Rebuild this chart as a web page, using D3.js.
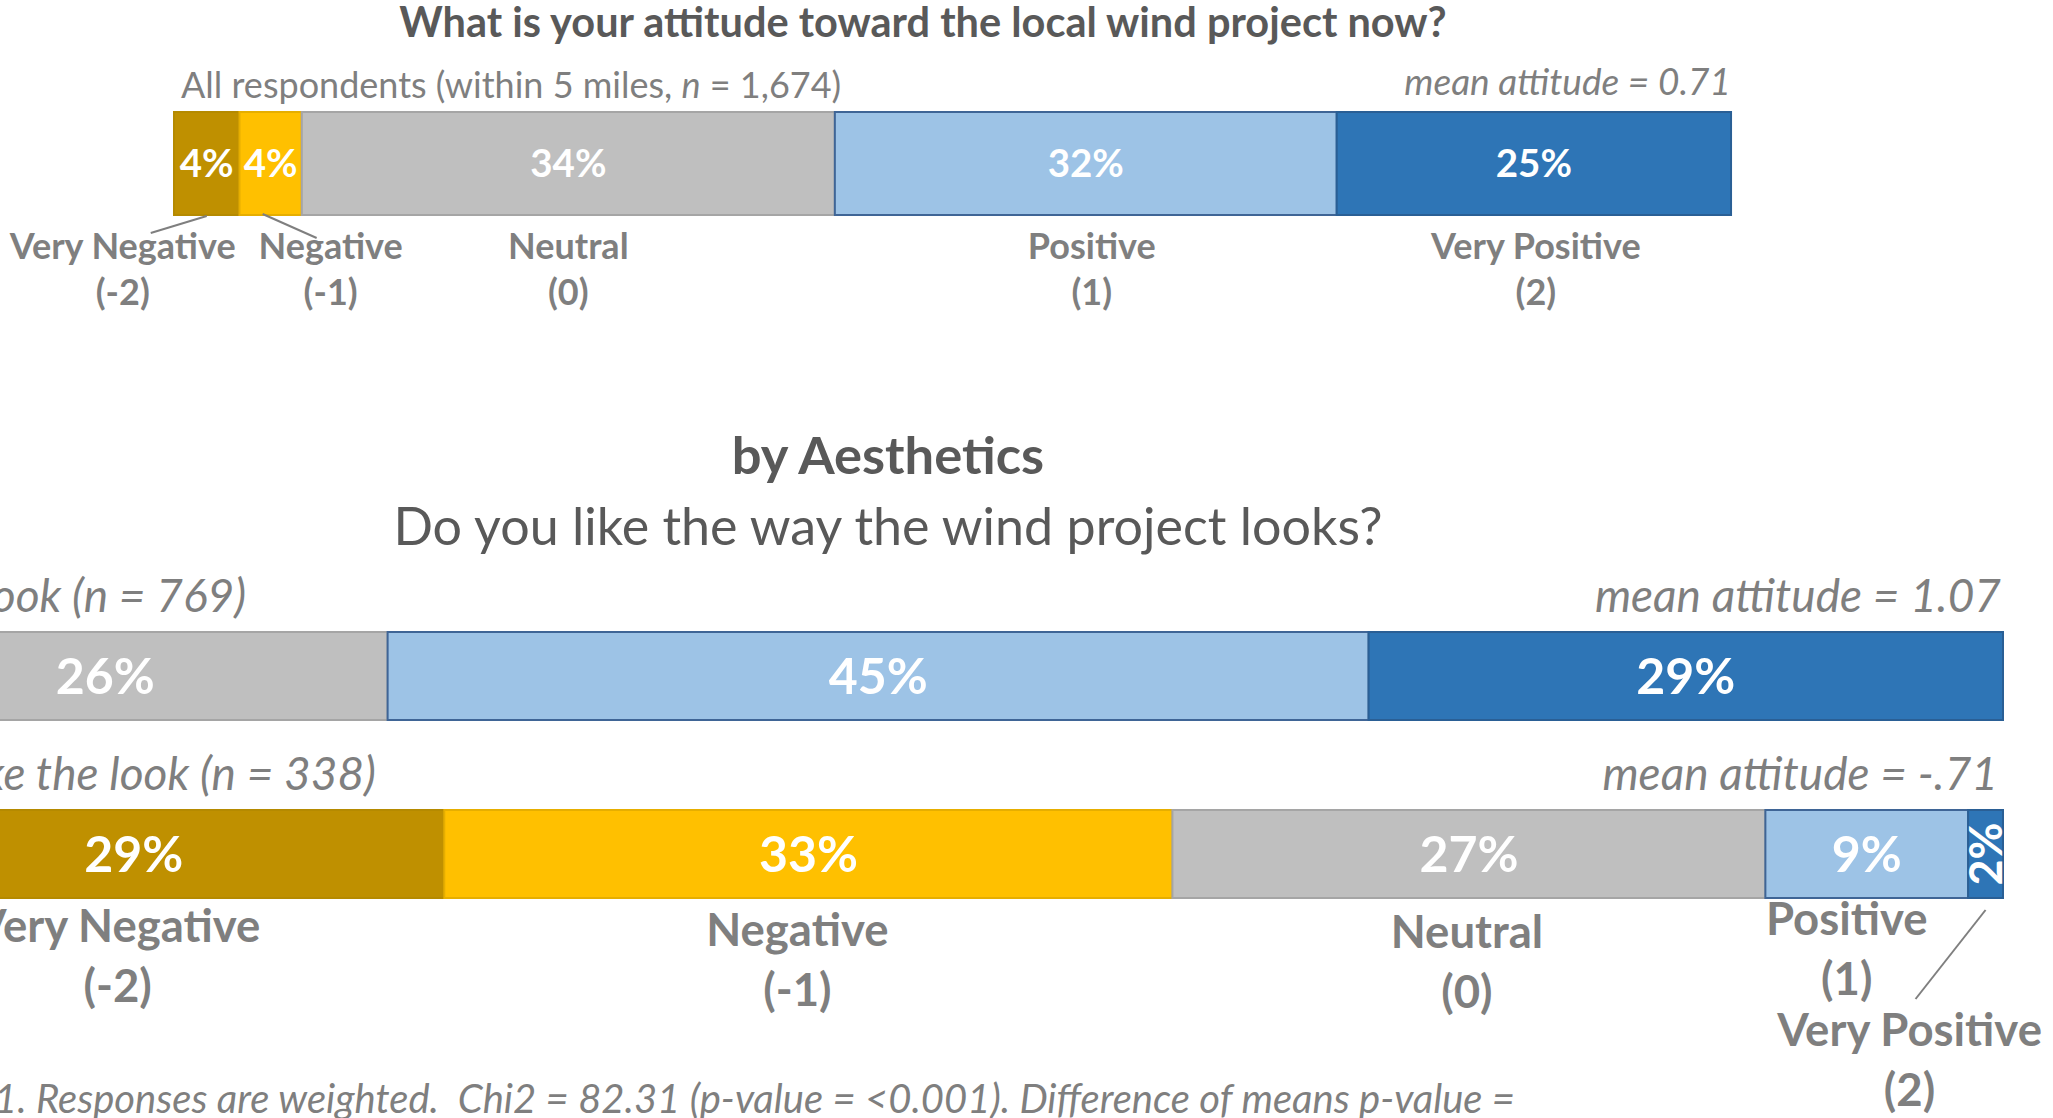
<!DOCTYPE html>
<html>
<head>
<meta charset="utf-8">
<script src="https://cdn.jsdelivr.net/npm/d3@7"></script>
<style>
  body { margin: 0; background: #fff; overflow: hidden; }
  svg { display: block; font-family: Lato, "Open Sans", sans-serif; }
</style>
</head>
<body>
<svg id="chart" width="2053" height="1118"></svg>
<script>
// Response categories
const categories = ['Very Negative', 'Negative', 'Neutral', 'Positive', 'Very Positive'];
const codes = ['(-2)', '(-1)', '(0)', '(1)', '(2)'];

// Share of respondents (%) per category
const allRespondents = [4.2, 4.0, 34.2, 32.2, 25.3];
const likeLook = [0, 0, 25.9, 45.0, 29.1];
const dislikeLook = [28.5, 33.4, 27.2, 9.3, 1.6];

// Texts
const meanAll = 'mean attitude = 0.71';
const meanLike = 'mean attitude = 1.07';
const meanDislike = 'mean attitude = -.71';

const fills = ['#BF9000', '#FFC000', '#BFBFBF', '#9DC3E6', '#2E75B6'];
const strokes = ['#B58A00', '#E6AE00', '#A5A5A5', '#3F6596', '#2A5F95'];
const grey = '#7F7F7F';

const svg = d3.select('#chart');

// stack values into segments
function segments(values) {
    let acc = 0;
    return values.map((v, i) => {
        const s = { i: i, v: v, x0: acc, x1: acc + v };
        acc += v;
        return s;
    });
}

function drawBar(values, x, y0, h, fontSize, rotateSmall) {
    const segs = segments(values);
    const g = svg.append('g');
    g.selectAll('rect')
        .data(segs.filter(d => d.v > 0))
        .enter().append('rect')
        .attr('x', d => x(d.x0))
        .attr('y', y0)
        .attr('width', d => x(d.x1) - x(d.x0))
        .attr('height', h)
        .attr('fill', d => fills[d.i])
        .attr('stroke', d => strokes[d.i])
        .attr('stroke-width', 2);

    g.selectAll('text')
        .data(segs.filter(d => d.v > 0))
        .enter().append('text')
        .attr('transform', d => {
            const cx = (x(d.x0) + x(d.x1)) / 2;
            const cy = y0 + h / 2;
            return (rotateSmall && d.v < 3) ? `translate(${cx},${cy}) rotate(-90)` : `translate(${cx},${cy})`;
        })
        .attr('text-anchor', 'middle')
        .attr('dy', '0.36em')
        .attr('fill', '#fff')
        .attr('font-weight', 'bold')
        .attr('font-size', d => (rotateSmall && d.v < 3) ? fontSize * 0.9 : fontSize)
        .text(d => Math.round(d.v) + '%');
    return segs;
}

function catLabel(cx, y, i, size, gap) {
    const t = svg.append('text')
        .attr('text-anchor', 'middle')
        .attr('fill', grey)
        .attr('font-weight', 'bold')
        .attr('font-size', size);
    t.append('tspan').attr('x', cx).attr('y', y).text(categories[i]);
    t.append('tspan').attr('x', cx).attr('y', y + gap).text(codes[i]);
}

function leader(x1, y1, x2, y2) {
    svg.append('line')
        .attr('x1', x1).attr('y1', y1).attr('x2', x2).attr('y2', y2)
        .attr('stroke', grey).attr('stroke-width', 2);
}

// ---------- Top chart ----------
svg.append('text')
    .attr('x', 923).attr('y', 37)
    .attr('text-anchor', 'middle')
    .attr('fill', '#595959')
    .attr('font-weight', 'bold')
    .attr('font-size', 41.5)
    .text('What is your attitude toward the local wind project now?');

const xTop = d3.scaleLinear().domain([0, 100]).range([174, 1732.6]);

const sub = svg.append('text')
    .attr('x', 181).attr('y', 98)
    .attr('fill', grey)
    .attr('font-size', 36);
sub.append('tspan').text('All respondents (within 5 miles, ');
sub.append('tspan').attr('font-style', 'italic').text('n');
sub.append('tspan').text(' = 1,674)');

svg.append('text')
    .attr('x', 1731).attr('y', 95)
    .attr('text-anchor', 'end')
    .attr('fill', grey)
    .attr('font-style', 'italic')
    .attr('font-size', 37)
    .text(meanAll);

const topSegs = drawBar(allRespondents, xTop, 112, 103, 38.5, false);
const topCx = topSegs.map(d => (xTop(d.x0) + xTop(d.x1)) / 2);
const topShift = [-84, 60, 0, 6, 2];
topSegs.forEach((d, i) => catLabel(topCx[i] + topShift[i], 259, i, 36, 46));
leader(topCx[0], 216, topCx[0] - 56, 233);
leader(topCx[1] - 8, 214, topCx[1] + 46, 238);

// ---------- Bottom chart ----------
svg.append('text')
    .attr('x', 888).attr('y', 474)
    .attr('text-anchor', 'middle')
    .attr('fill', '#595959')
    .attr('font-weight', 'bold')
    .attr('font-size', 52.5)
    .text('by Aesthetics');

svg.append('text')
    .attr('x', 888).attr('y', 545)
    .attr('text-anchor', 'middle')
    .attr('fill', '#595959')
    .attr('font-size', 52)
    .text('Do you like the way the wind project looks?');

const xBot = d3.scaleLinear().domain([0, 100]).range([-177, 2003]);

function groupLabel(xEnd, y, txt) {
    svg.append('text')
        .attr('x', xEnd).attr('y', y)
        .attr('text-anchor', 'end')
        .attr('fill', grey)
        .attr('font-style', 'italic')
        .attr('font-size', 46)
        .text(txt);
}

groupLabel(246, 612, 'Like the look (n = 769)');
groupLabel(2001, 612, meanLike);
drawBar(likeLook, xBot, 632, 88, 50, false);

groupLabel(376, 790, 'Dislike the look (n = 338)');
groupLabel(1998, 790, meanDislike);
const botSegs = drawBar(dislikeLook, xBot, 810, 88, 50, true);
const botCx = botSegs.map(d => (xBot(d.x0) + xBot(d.x1)) / 2);

const botShift = [-16, -11, -2, -20, -76];
const botY = [942, 946, 948, 935, 1046];
botSegs.forEach((d, i) => catLabel(botCx[i] + botShift[i], botY[i], i, 45.5, 60));
leader(botCx[4], 910, botCx[4] - 70, 999);

// footnote
svg.append('text')
    .attr('x', -6).attr('y', 1113)
    .attr('fill', grey)
    .attr('font-style', 'italic')
    .attr('font-size', 40)
    .text('1. Responses are weighted.\u00a0 Chi2 = 82.31 (p-value = <0.001). Difference of means p-value =');
</script>
</body>
</html>
